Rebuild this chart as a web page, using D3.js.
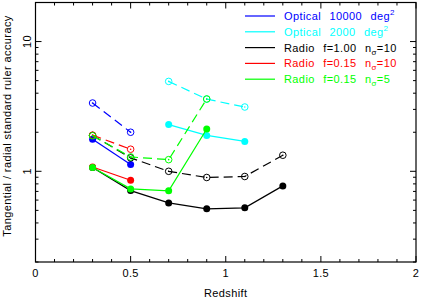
<!DOCTYPE html>
<html>
<head>
<meta charset="utf-8">
<script src="https://cdn.jsdelivr.net/npm/d3@7"></script>
<style>
  html, body { margin: 0; padding: 0; background: #fff; }
  svg text { font-family: "Liberation Sans", Arial, sans-serif; font-size: 11px; letter-spacing: 0.4px; }
</style>
</head>
<body>
<div id="chart"></div>
<script>
// redshift bins
const zOptLow = [0.3, 0.5];
const zOptHigh = [0.7, 0.9, 1.1];
const zRadio = [0.3, 0.5, 0.7, 0.9, 1.1, 1.3];
const zRadioLow = [0.3, 0.5];
const zRadio5 = [0.3, 0.5, 0.7, 0.9];

// filled = tangential, open = radial
const opt10000Tan = [1.77, 1.13];
const opt10000Rad = [3.36, 2.0];
const opt2000Tan = [2.29, 1.89, 1.70];
const opt2000Rad = [4.93, 3.60, 3.13];
const radio100Tan = [1.07, 0.71, 0.571, 0.514, 0.523, 0.772];
const radio100Rad = [1.89, 1.27, 1.0, 0.896, 0.912, 1.33];
const radio015Tan = [1.08, 0.854];
const radio015Rad = [1.90, 1.48];
const radio5Tan = [1.07, 0.732, 0.707, 2.12];
const radio5Rad = [1.88, 1.29, 1.23, 3.61];

const xTicks = [0, 0.5, 1, 1.5, 2];
const yTicks = [1, 10];
const legendLabels = [
  { text: 'Optical 10000 deg', sup: '2', color: '#0000ff' },
  { text: 'Optical 2000 deg', sup: '2', color: '#00ffff' },
  { text: 'Radio f=1.00 n', sub: 'σ', after: '=10', color: '#000000' },
  { text: 'Radio f=0.15 n', sub: 'σ', after: '=10', color: '#ff0000' },
  { text: 'Radio f=0.15 n', sub: 'σ', after: '=5', color: '#00ff00' }
];

const series = [
  { z: zOptLow, tan: opt10000Tan, rad: opt10000Rad, color: '#0000ff' },
  { z: zOptHigh, tan: opt2000Tan, rad: opt2000Rad, color: '#00ffff' },
  { z: zRadio, tan: radio100Tan, rad: radio100Rad, color: '#000000' },
  { z: zRadioLow, tan: radio015Tan, rad: radio015Rad, color: '#ff0000' },
  { z: zRadio5, tan: radio5Tan, rad: radio5Rad, color: '#00ff00' }
];

const width = 421, height = 300;
const margin = { top: 2.5, right: 5, bottom: 38, left: 35.5 };
const innerW = width - margin.left - margin.right;
const innerH = height - margin.top - margin.bottom;

const svg = d3.select('#chart').append('svg')
  .attr('width', width)
  .attr('height', height);

const g = svg.append('g')
  .attr('transform', `translate(${margin.left},${margin.top})`);

const x = d3.scaleLinear().domain([0, 2]).range([0, innerW]);
const y = d3.scaleLog().domain([0.2, 20]).range([innerH, 0]);

// minor / major ticks on all four sides, pointing inward
const xMinor = d3.range(0, 2.0001, 0.1);
const yMinor = [];
[0.1, 1, 10].forEach(dec => {
  for (let k = 2; k <= 9; k++) {
    const v = dec * k;
    if (v >= 0.2 && v <= 20) yMinor.push(v);
  }
});

const ticks = g.append('g').attr('stroke', '#000').attr('stroke-width', 1);
xMinor.forEach(v => {
  const major = xTicks.some(t => Math.abs(t - v) < 1e-6);
  const len = major ? 6 : 3;
  ticks.append('line').attr('x1', x(v)).attr('x2', x(v)).attr('y1', innerH).attr('y2', innerH - len);
  ticks.append('line').attr('x1', x(v)).attr('x2', x(v)).attr('y1', 0).attr('y2', len);
});
yMinor.concat(yTicks).forEach(v => {
  const major = yTicks.includes(v);
  const len = major ? 6 : 3;
  ticks.append('line').attr('x1', 0).attr('x2', len).attr('y1', y(v)).attr('y2', y(v));
  ticks.append('line').attr('x1', innerW).attr('x2', innerW - len).attr('y1', y(v)).attr('y2', y(v));
});

// frame
g.append('rect')
  .attr('width', innerW)
  .attr('height', innerH)
  .attr('fill', 'none')
  .attr('stroke', '#000')
  .attr('stroke-width', 1.2);

// tick labels
g.selectAll('.xlab')
  .data(xTicks)
  .enter().append('text')
  .attr('x', d => x(d))
  .attr('y', innerH + 15)
  .attr('text-anchor', 'middle')
  .text(d => d3.format('')(d));

g.selectAll('.ylab')
  .data(yTicks)
  .enter().append('text')
  .attr('transform', d => `translate(-4.5,${y(d)}) rotate(-90)`)
  .attr('text-anchor', 'middle')
  .text(d => d);

// axis titles
svg.append('text')
  .attr('x', margin.left + innerW / 2)
  .attr('y', 297)
  .attr('text-anchor', 'middle')
  .text('Redshift');

svg.append('text')
  .attr('transform', `translate(11,126) rotate(-90)`)
  .attr('text-anchor', 'middle')
  .text('Tangential / radial standard ruler accuracy');

// data lines and markers
const line = d3.line()
  .x(d => x(d[0]))
  .y(d => y(d[1]));

series.forEach(s => {
  const tanPts = s.z.map((z, i) => [z, s.tan[i]]);
  const radPts = s.z.map((z, i) => [z, s.rad[i]]);

  g.append('path')
    .datum(radPts)
    .attr('fill', 'none')
    .attr('stroke', s.color)
    .attr('stroke-width', 1.2)
    .attr('stroke-dasharray', '9,5')
    .attr('d', line);

  g.append('path')
    .datum(tanPts)
    .attr('fill', 'none')
    .attr('stroke', s.color)
    .attr('stroke-width', 1.2)
    .attr('d', line);

  g.selectAll(null)
    .data(radPts)
    .enter().append('circle')
    .attr('cx', d => x(d[0]))
    .attr('cy', d => y(d[1]))
    .attr('r', 3.3)
    .attr('fill', '#fff')
    .attr('fill-opacity', 0)
    .attr('stroke', s.color)
    .attr('stroke-width', 1);

  g.selectAll(null)
    .data(radPts)
    .enter().append('circle')
    .attr('cx', d => x(d[0]))
    .attr('cy', d => y(d[1]))
    .attr('r', 0.8)
    .attr('fill', s.color);

  g.selectAll(null)
    .data(tanPts)
    .enter().append('circle')
    .attr('cx', d => x(d[0]))
    .attr('cy', d => y(d[1]))
    .attr('r', 3.5)
    .attr('fill', s.color);
});

// legend
const legend = svg.append('g');
legendLabels.forEach((d, i) => {
  const ly = 16 + i * 15.8;
  legend.append('line')
    .attr('x1', 245).attr('x2', 275)
    .attr('y1', ly).attr('y2', ly)
    .attr('stroke', d.color)
    .attr('stroke-width', 1.2);
  const t = legend.append('text')
    .attr('x', 284)
    .attr('y', ly + 4)
    .attr('fill', d.color)
    .style('word-spacing', '5px')
    .text(d.text);
  if (d.sup) {
    t.append('tspan').attr('dy', -5).attr('font-size', '8px').style('font-size', '8px').text(d.sup);
  }
  if (d.sub) {
    t.append('tspan').attr('dy', 3).style('font-size', '8px').text(d.sub);
    t.append('tspan').attr('dy', -3).text(d.after);
  }
});
</script>
</body>
</html>
